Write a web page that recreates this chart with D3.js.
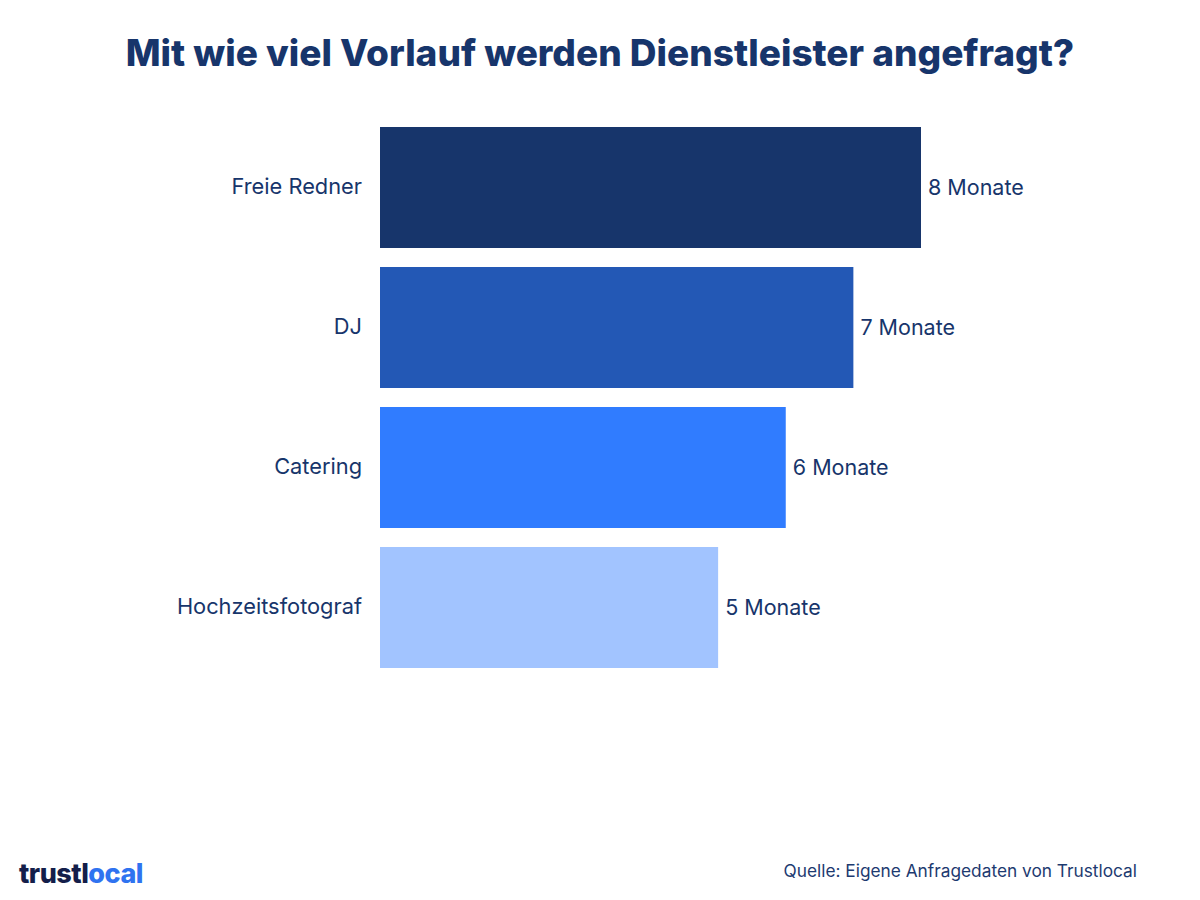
<!DOCTYPE html>
<html>
<head>
<meta charset="utf-8">
<script src="https://cdn.jsdelivr.net/npm/d3@7"></script>
<style>
  body { margin: 0; background: #fff; }
  text { font-family: Inter, "Noto Sans", sans-serif; }
</style>
</head>
<body>
<svg id="chart" width="1200" height="900"></svg>
<script>
var categories = ["Freie Redner", "DJ", "Catering", "Hochzeitsfotograf"];
var values = [8, 7, 6, 5];
var valueLabels = ["8 Monate", "7 Monate", "6 Monate", "5 Monate"];
var barColors = ["#17356b", "#2358b5", "#307cff", "#a2c4ff"];

var navy = "#17356b";
var svg = d3.select("#chart");

// title
svg.append("text")
    .attr("x", 600).attr("y", 66)
    .attr("text-anchor", "middle")
    .attr("font-size", 37).attr("font-weight", 800)
    .attr("fill", navy)
    .text("Mit wie viel Vorlauf werden Dienstleister angefragt?");

var x = d3.scaleLinear().domain([0, 8]).range([380, 921]);
var y = d3.scaleBand().domain(categories).range([127, 668]).paddingInner(19 / 140).paddingOuter(0);

var rows = categories.map(function(c, i) { return { cat: c, value: values[i], label: valueLabels[i], color: barColors[i] }; });

var g = svg.append("g");
g.selectAll("rect").data(rows).enter().append("rect")
    .attr("x", x(0))
    .attr("y", function(d) { return y(d.cat); })
    .attr("width", function(d) { return x(d.value) - x(0); })
    .attr("height", y.bandwidth())
    .attr("fill", function(d) { return d.color; });

// category labels via axis
var axis = svg.append("g")
    .attr("transform", "translate(" + (x(0) - 18) + ",0)")
    .call(d3.axisLeft(y).tickSize(0).tickPadding(0));
axis.select(".domain").remove();
axis.selectAll("text")
    .attr("font-size", 21.8)
    .attr("fill", navy)
    .style("font-family", "Inter, 'Noto Sans', sans-serif");

g.selectAll("text.val").data(rows).enter().append("text")
    .attr("class", "val")
    .attr("x", function(d) { return x(d.value) + 7; })
    .attr("y", function(d) { return y(d.cat) + y.bandwidth() / 2; })
    .attr("dy", "0.35em")
    .attr("font-size", 21.5)
    .attr("fill", navy)
    .text(function(d) { return d.label; });

// source
svg.append("text")
    .attr("x", 1137).attr("y", 877)
    .attr("text-anchor", "end")
    .attr("font-size", 17.3)
    .attr("fill", "#1d3a70")
    .text("Quelle: Eigene Anfragedaten von Trustlocal");

// logo
var logo = svg.append("text")
    .attr("x", 19).attr("y", 883)
    .attr("font-size", 27).attr("font-weight", 800)
    .attr("letter-spacing", -0.5);
logo.append("tspan").attr("fill", "#141e4a").text("trustl");
logo.append("tspan").attr("fill", "#2f73f0").text("ocal");
</script>
</body>
</html>
